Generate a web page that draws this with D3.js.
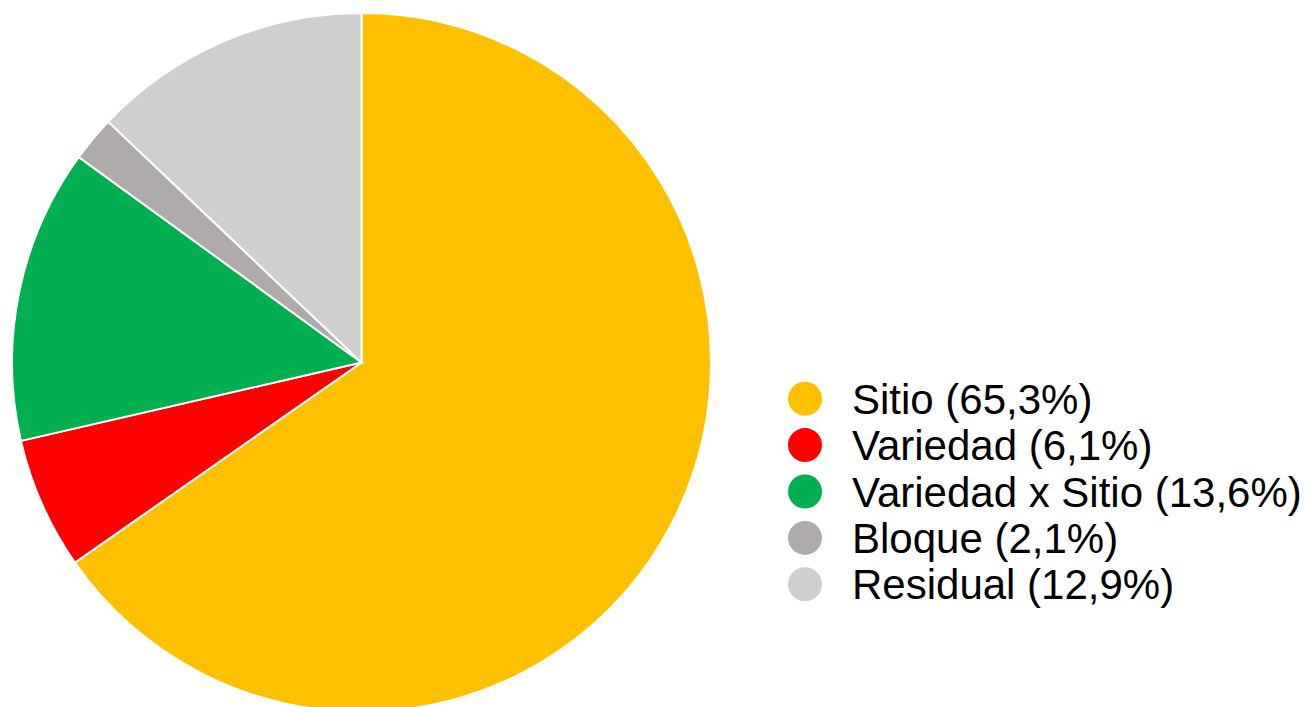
<!DOCTYPE html>
<html>
<head>
<meta charset="utf-8">
<script src="https://cdnjs.cloudflare.com/ajax/libs/d3/7.8.5/d3.min.js"></script>
<style>
  body { margin: 0; background: #fff; }
  svg { display: block; }
  .legend text { font-family: "Liberation Sans", Arial, sans-serif; }
</style>
</head>
<body>
<div id="chart"></div>
<script>
'use strict'

// componentes de varianza
const categories = ['Sitio', 'Variedad', 'Variedad x Sitio', 'Bloque', 'Residual']
const values = [65.3, 6.1, 13.6, 2.1, 12.9]
const colors = ['#FFC000', '#FF0000', '#00B050', '#AFABAB', '#D0CECE']

const width = 1312, height = 707

let svg = d3.select('#chart').append('svg')
    .attr('width', width)
    .attr('height', height)

let cx = 361.5, cy = 362.5, radius = 349.5

let pie = d3.pie().sort(null).value(d => d.v)
let arc = d3.arc().innerRadius(0).outerRadius(radius)

let data = categories.map((c, i) => ({ k: c, v: values[i], color: colors[i] }))

let g = svg.append('g')
    .attr('transform', 'translate(' + cx + ',' + cy + ')')

g.selectAll('path')
    .data(pie(data))
    .enter().append('path')
    .attr('d', arc)
    .attr('fill', d => d.data.color)
    .attr('stroke', '#fff')
    .attr('stroke-width', 2)

// leyenda
let fmt = v => v.toFixed(1).replace('.', ',')
let y = d3.scaleBand().domain(categories).range([375.5, 607.5])

let legend = svg.append('g').attr('class', 'legend')
let rows = legend.selectAll('g')
    .data(data)
    .enter().append('g')
    .attr('transform', d => 'translate(805,' + (y(d.k) + y.bandwidth() / 2) + ')')

rows.append('circle')
    .attr('r', 17)
    .attr('fill', d => d.color)

rows.append('text')
    .attr('x', 47)
    .attr('dy', '0.36em')
    .attr('font-size', 42)
    .attr('fill', '#000')
    .text(d => `${d.k} (${fmt(d.v)}%)`)
</script>
</body>
</html>
